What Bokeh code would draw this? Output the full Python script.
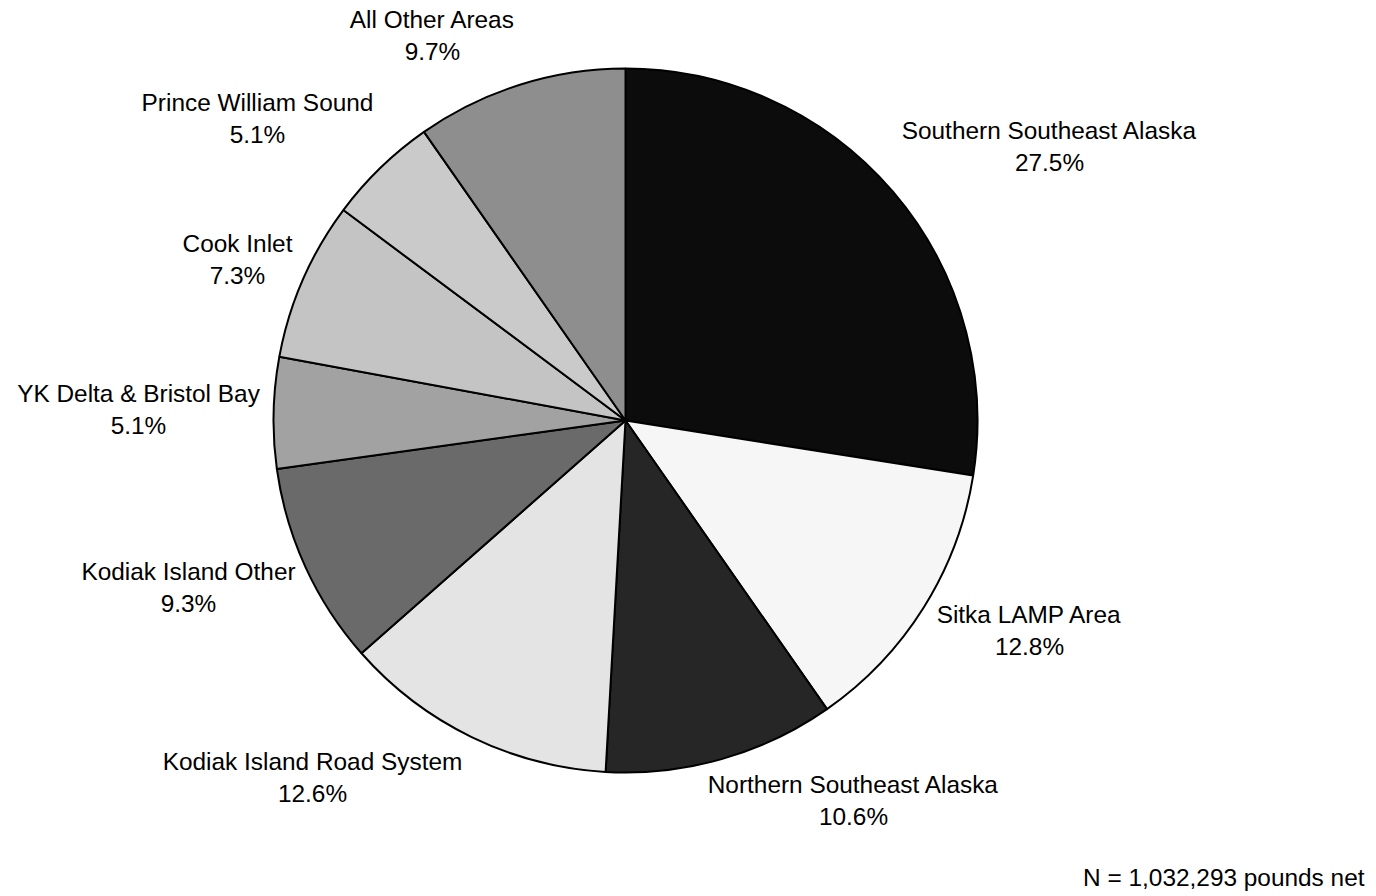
import math
from bokeh.plotting import figure
from bokeh.models import Range1d, ColumnDataSource
from bokeh.core.properties import value
from bokeh.embed import file_html
from bokeh.resources import INLINE

# ---- data ----
areas = ["Southern Southeast Alaska", "Sitka LAMP Area", "Northern Southeast Alaska",
         "Kodiak Island Road System", "Kodiak Island Other", "YK Delta & Bristol Bay",
         "Cook Inlet", "Prince William Sound", "All Other Areas"]
percents = [27.5, 12.8, 10.6, 12.6, 9.3, 5.1, 7.3, 5.1, 9.7]
colors = ["#0c0c0c", "#f6f6f6", "#262626", "#e4e4e4", "#6a6a6a",
          "#a2a2a2", "#c4c4c4", "#cacaca", "#8e8e8e"]
note = "N = 1,032,293 pounds net"

# ---- layout (image pixel coordinates) ----
W, H = 1370, 894
cx, cy, R = 625, 420, 352
label_x = [1049, 1029, 853, 312, 188, 138, 237, 257, 432]
label_y1 = [130, 614, 784, 761, 571, 393, 243, 102, 19]
line_gap = 32
FONT = value("Liberation Sans")
FS = "24.4px"

def Y(img_y):
    return H - img_y

p = figure(width=W, height=H, output_backend="svg", toolbar_location=None,
           x_range=Range1d(0, W), y_range=Range1d(0, H),
           min_border=0, outline_line_color=None)
p.axis.visible = False
p.grid.visible = False
p.background_fill_color = "white"

total = sum(percents)
starts, ends = [], []
acc = 0.0
for v in percents:
    a0 = math.pi / 2 - 2 * math.pi * acc / total
    acc += v
    a1 = math.pi / 2 - 2 * math.pi * acc / total
    starts.append(a0)
    ends.append(a1)

src = ColumnDataSource(dict(start=starts, end=ends, color=colors))
p.wedge(x=cx, y=Y(cy), radius=R, start_angle="start", end_angle="end",
        direction="clock", fill_color="color", line_color="black", line_width=2,
        source=src)

lab = ColumnDataSource(dict(
    x=label_x,
    y1=[Y(v) for v in label_y1],
    y2=[Y(v + line_gap) for v in label_y1],
    name=areas,
    pct=[f"{v:.1f}%" for v in percents],
))
p.text(x="x", y="y1", text="name", source=lab, text_align="center",
       text_baseline="alphabetic", text_font=FONT, text_font_size=FS,
       text_color="black")
p.text(x="x", y="y2", text="pct", source=lab, text_align="center",
       text_baseline="alphabetic", text_font=FONT, text_font_size=FS,
       text_color="black")

p.text(x=[1364], y=[Y(877)], text=[note], text_align="right",
       text_baseline="alphabetic", text_font=FONT, text_font_size=FS,
       text_color="black")

open("out.html", "w").write(file_html(p, INLINE))
